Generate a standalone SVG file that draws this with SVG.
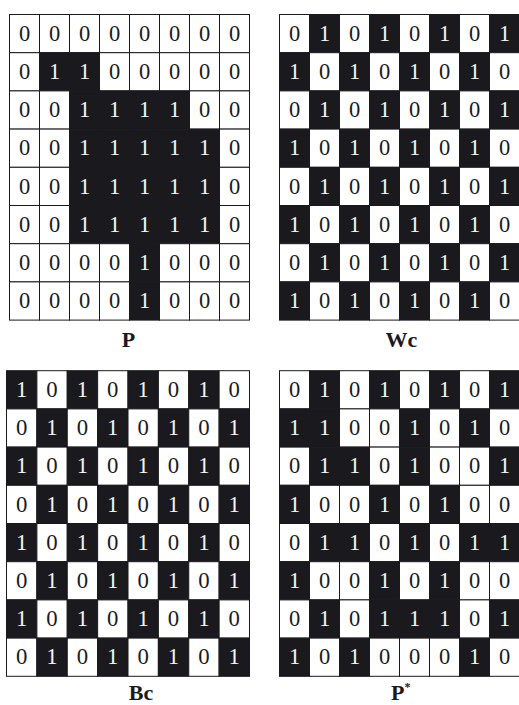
<svg xmlns="http://www.w3.org/2000/svg" xmlns:xlink="http://www.w3.org/1999/xlink" width="519" height="705" viewBox="0 0 519 705">
<style>
.d{font-family:"Liberation Serif","Times New Roman",serif;font-size:22.5px;fill:#1a1a1e;text-anchor:middle}
.l{font-family:"Liberation Serif","Times New Roman",serif;font-size:22.5px;fill:#f4f4f4;text-anchor:middle}
.lab{font-family:"Liberation Serif","Times New Roman",serif;font-size:22px;font-weight:bold;fill:#1a1a1e}
</style>
<defs>
<g id="c0"><rect width="30" height="38.2" fill="#fff" stroke="#1a1a1e" stroke-width="1"/><text x="15" y="26.4" class="d">0</text></g>
<g id="c1"><rect width="30" height="38.2" fill="#1a1a1e" stroke="#1a1a1e" stroke-width="1"/><text x="15" y="26.4" class="l">1</text></g>
</defs>
<rect width="519" height="705" fill="#fff"/>

<g id="P" transform="translate(9.5,14.5)">
<use href="#c0" x="0" y="0"/><use href="#c0" x="30" y="0"/><use href="#c0" x="60" y="0"/><use href="#c0" x="90" y="0"/><use href="#c0" x="120" y="0"/><use href="#c0" x="150" y="0"/><use href="#c0" x="180" y="0"/><use href="#c0" x="210" y="0"/>
<use href="#c0" x="0" y="38.2"/><use href="#c1" x="30" y="38.2"/><use href="#c1" x="60" y="38.2"/><use href="#c0" x="90" y="38.2"/><use href="#c0" x="120" y="38.2"/><use href="#c0" x="150" y="38.2"/><use href="#c0" x="180" y="38.2"/><use href="#c0" x="210" y="38.2"/>
<use href="#c0" x="0" y="76.4"/><use href="#c0" x="30" y="76.4"/><use href="#c1" x="60" y="76.4"/><use href="#c1" x="90" y="76.4"/><use href="#c1" x="120" y="76.4"/><use href="#c1" x="150" y="76.4"/><use href="#c0" x="180" y="76.4"/><use href="#c0" x="210" y="76.4"/>
<use href="#c0" x="0" y="114.6"/><use href="#c0" x="30" y="114.6"/><use href="#c1" x="60" y="114.6"/><use href="#c1" x="90" y="114.6"/><use href="#c1" x="120" y="114.6"/><use href="#c1" x="150" y="114.6"/><use href="#c1" x="180" y="114.6"/><use href="#c0" x="210" y="114.6"/>
<use href="#c0" x="0" y="152.8"/><use href="#c0" x="30" y="152.8"/><use href="#c1" x="60" y="152.8"/><use href="#c1" x="90" y="152.8"/><use href="#c1" x="120" y="152.8"/><use href="#c1" x="150" y="152.8"/><use href="#c1" x="180" y="152.8"/><use href="#c0" x="210" y="152.8"/>
<use href="#c0" x="0" y="191"/><use href="#c0" x="30" y="191"/><use href="#c1" x="60" y="191"/><use href="#c1" x="90" y="191"/><use href="#c1" x="120" y="191"/><use href="#c1" x="150" y="191"/><use href="#c1" x="180" y="191"/><use href="#c0" x="210" y="191"/>
<use href="#c0" x="0" y="229.2"/><use href="#c0" x="30" y="229.2"/><use href="#c0" x="60" y="229.2"/><use href="#c0" x="90" y="229.2"/><use href="#c1" x="120" y="229.2"/><use href="#c0" x="150" y="229.2"/><use href="#c0" x="180" y="229.2"/><use href="#c0" x="210" y="229.2"/>
<use href="#c0" x="0" y="267.4"/><use href="#c0" x="30" y="267.4"/><use href="#c0" x="60" y="267.4"/><use href="#c0" x="90" y="267.4"/><use href="#c1" x="120" y="267.4"/><use href="#c0" x="150" y="267.4"/><use href="#c0" x="180" y="267.4"/><use href="#c0" x="210" y="267.4"/>
</g>
<text class="lab" x="128.5" y="347" text-anchor="middle">P</text>

<g id="Wc" transform="translate(279.5,14.5)">
<use href="#c0" x="0" y="0"/><use href="#c1" x="30" y="0"/><use href="#c0" x="60" y="0"/><use href="#c1" x="90" y="0"/><use href="#c0" x="120" y="0"/><use href="#c1" x="150" y="0"/><use href="#c0" x="180" y="0"/><use href="#c1" x="210" y="0"/>
<use href="#c1" x="0" y="38.2"/><use href="#c0" x="30" y="38.2"/><use href="#c1" x="60" y="38.2"/><use href="#c0" x="90" y="38.2"/><use href="#c1" x="120" y="38.2"/><use href="#c0" x="150" y="38.2"/><use href="#c1" x="180" y="38.2"/><use href="#c0" x="210" y="38.2"/>
<use href="#c0" x="0" y="76.4"/><use href="#c1" x="30" y="76.4"/><use href="#c0" x="60" y="76.4"/><use href="#c1" x="90" y="76.4"/><use href="#c0" x="120" y="76.4"/><use href="#c1" x="150" y="76.4"/><use href="#c0" x="180" y="76.4"/><use href="#c1" x="210" y="76.4"/>
<use href="#c1" x="0" y="114.6"/><use href="#c0" x="30" y="114.6"/><use href="#c1" x="60" y="114.6"/><use href="#c0" x="90" y="114.6"/><use href="#c1" x="120" y="114.6"/><use href="#c0" x="150" y="114.6"/><use href="#c1" x="180" y="114.6"/><use href="#c0" x="210" y="114.6"/>
<use href="#c0" x="0" y="152.8"/><use href="#c1" x="30" y="152.8"/><use href="#c0" x="60" y="152.8"/><use href="#c1" x="90" y="152.8"/><use href="#c0" x="120" y="152.8"/><use href="#c1" x="150" y="152.8"/><use href="#c0" x="180" y="152.8"/><use href="#c1" x="210" y="152.8"/>
<use href="#c1" x="0" y="191"/><use href="#c0" x="30" y="191"/><use href="#c1" x="60" y="191"/><use href="#c0" x="90" y="191"/><use href="#c1" x="120" y="191"/><use href="#c0" x="150" y="191"/><use href="#c1" x="180" y="191"/><use href="#c0" x="210" y="191"/>
<use href="#c0" x="0" y="229.2"/><use href="#c1" x="30" y="229.2"/><use href="#c0" x="60" y="229.2"/><use href="#c1" x="90" y="229.2"/><use href="#c0" x="120" y="229.2"/><use href="#c1" x="150" y="229.2"/><use href="#c0" x="180" y="229.2"/><use href="#c1" x="210" y="229.2"/>
<use href="#c1" x="0" y="267.4"/><use href="#c0" x="30" y="267.4"/><use href="#c1" x="60" y="267.4"/><use href="#c0" x="90" y="267.4"/><use href="#c1" x="120" y="267.4"/><use href="#c0" x="150" y="267.4"/><use href="#c1" x="180" y="267.4"/><use href="#c0" x="210" y="267.4"/>
</g>
<text class="lab" x="401.5" y="347" text-anchor="middle">Wc</text>

<g id="Bc" transform="translate(6.5,370.7) scale(1.0125,1)">
<use href="#c1" x="0" y="0"/><use href="#c0" x="30" y="0"/><use href="#c1" x="60" y="0"/><use href="#c0" x="90" y="0"/><use href="#c1" x="120" y="0"/><use href="#c0" x="150" y="0"/><use href="#c1" x="180" y="0"/><use href="#c0" x="210" y="0"/>
<use href="#c0" x="0" y="38.2"/><use href="#c1" x="30" y="38.2"/><use href="#c0" x="60" y="38.2"/><use href="#c1" x="90" y="38.2"/><use href="#c0" x="120" y="38.2"/><use href="#c1" x="150" y="38.2"/><use href="#c0" x="180" y="38.2"/><use href="#c1" x="210" y="38.2"/>
<use href="#c1" x="0" y="76.4"/><use href="#c0" x="30" y="76.4"/><use href="#c1" x="60" y="76.4"/><use href="#c0" x="90" y="76.4"/><use href="#c1" x="120" y="76.4"/><use href="#c0" x="150" y="76.4"/><use href="#c1" x="180" y="76.4"/><use href="#c0" x="210" y="76.4"/>
<use href="#c0" x="0" y="114.6"/><use href="#c1" x="30" y="114.6"/><use href="#c0" x="60" y="114.6"/><use href="#c1" x="90" y="114.6"/><use href="#c0" x="120" y="114.6"/><use href="#c1" x="150" y="114.6"/><use href="#c0" x="180" y="114.6"/><use href="#c1" x="210" y="114.6"/>
<use href="#c1" x="0" y="152.8"/><use href="#c0" x="30" y="152.8"/><use href="#c1" x="60" y="152.8"/><use href="#c0" x="90" y="152.8"/><use href="#c1" x="120" y="152.8"/><use href="#c0" x="150" y="152.8"/><use href="#c1" x="180" y="152.8"/><use href="#c0" x="210" y="152.8"/>
<use href="#c0" x="0" y="191"/><use href="#c1" x="30" y="191"/><use href="#c0" x="60" y="191"/><use href="#c1" x="90" y="191"/><use href="#c0" x="120" y="191"/><use href="#c1" x="150" y="191"/><use href="#c0" x="180" y="191"/><use href="#c1" x="210" y="191"/>
<use href="#c1" x="0" y="229.2"/><use href="#c0" x="30" y="229.2"/><use href="#c1" x="60" y="229.2"/><use href="#c0" x="90" y="229.2"/><use href="#c1" x="120" y="229.2"/><use href="#c0" x="150" y="229.2"/><use href="#c1" x="180" y="229.2"/><use href="#c0" x="210" y="229.2"/>
<use href="#c0" x="0" y="267.4"/><use href="#c1" x="30" y="267.4"/><use href="#c0" x="60" y="267.4"/><use href="#c1" x="90" y="267.4"/><use href="#c0" x="120" y="267.4"/><use href="#c1" x="150" y="267.4"/><use href="#c0" x="180" y="267.4"/><use href="#c1" x="210" y="267.4"/>
</g>
<text class="lab" x="141" y="700" text-anchor="middle">Bc</text>

<g id="Pstar" transform="translate(279.5,370.7)">
<use href="#c0" x="0" y="0"/><use href="#c1" x="30" y="0"/><use href="#c0" x="60" y="0"/><use href="#c1" x="90" y="0"/><use href="#c0" x="120" y="0"/><use href="#c1" x="150" y="0"/><use href="#c0" x="180" y="0"/><use href="#c1" x="210" y="0"/>
<use href="#c1" x="0" y="38.2"/><use href="#c1" x="30" y="38.2"/><use href="#c0" x="60" y="38.2"/><use href="#c0" x="90" y="38.2"/><use href="#c1" x="120" y="38.2"/><use href="#c0" x="150" y="38.2"/><use href="#c1" x="180" y="38.2"/><use href="#c0" x="210" y="38.2"/>
<use href="#c0" x="0" y="76.4"/><use href="#c1" x="30" y="76.4"/><use href="#c1" x="60" y="76.4"/><use href="#c0" x="90" y="76.4"/><use href="#c1" x="120" y="76.4"/><use href="#c0" x="150" y="76.4"/><use href="#c0" x="180" y="76.4"/><use href="#c1" x="210" y="76.4"/>
<use href="#c1" x="0" y="114.6"/><use href="#c0" x="30" y="114.6"/><use href="#c0" x="60" y="114.6"/><use href="#c1" x="90" y="114.6"/><use href="#c0" x="120" y="114.6"/><use href="#c1" x="150" y="114.6"/><use href="#c0" x="180" y="114.6"/><use href="#c0" x="210" y="114.6"/>
<use href="#c0" x="0" y="152.8"/><use href="#c1" x="30" y="152.8"/><use href="#c1" x="60" y="152.8"/><use href="#c0" x="90" y="152.8"/><use href="#c1" x="120" y="152.8"/><use href="#c0" x="150" y="152.8"/><use href="#c1" x="180" y="152.8"/><use href="#c1" x="210" y="152.8"/>
<use href="#c1" x="0" y="191"/><use href="#c0" x="30" y="191"/><use href="#c0" x="60" y="191"/><use href="#c1" x="90" y="191"/><use href="#c0" x="120" y="191"/><use href="#c1" x="150" y="191"/><use href="#c0" x="180" y="191"/><use href="#c0" x="210" y="191"/>
<use href="#c0" x="0" y="229.2"/><use href="#c1" x="30" y="229.2"/><use href="#c0" x="60" y="229.2"/><use href="#c1" x="90" y="229.2"/><use href="#c1" x="120" y="229.2"/><use href="#c1" x="150" y="229.2"/><use href="#c0" x="180" y="229.2"/><use href="#c1" x="210" y="229.2"/>
<use href="#c1" x="0" y="267.4"/><use href="#c0" x="30" y="267.4"/><use href="#c1" x="60" y="267.4"/><use href="#c0" x="90" y="267.4"/><use href="#c0" x="120" y="267.4"/><use href="#c0" x="150" y="267.4"/><use href="#c1" x="180" y="267.4"/><use href="#c0" x="210" y="267.4"/>
</g>
<text class="lab" x="391" y="700">P<tspan font-size="12" dy="-9">*</tspan></text>
</svg>
